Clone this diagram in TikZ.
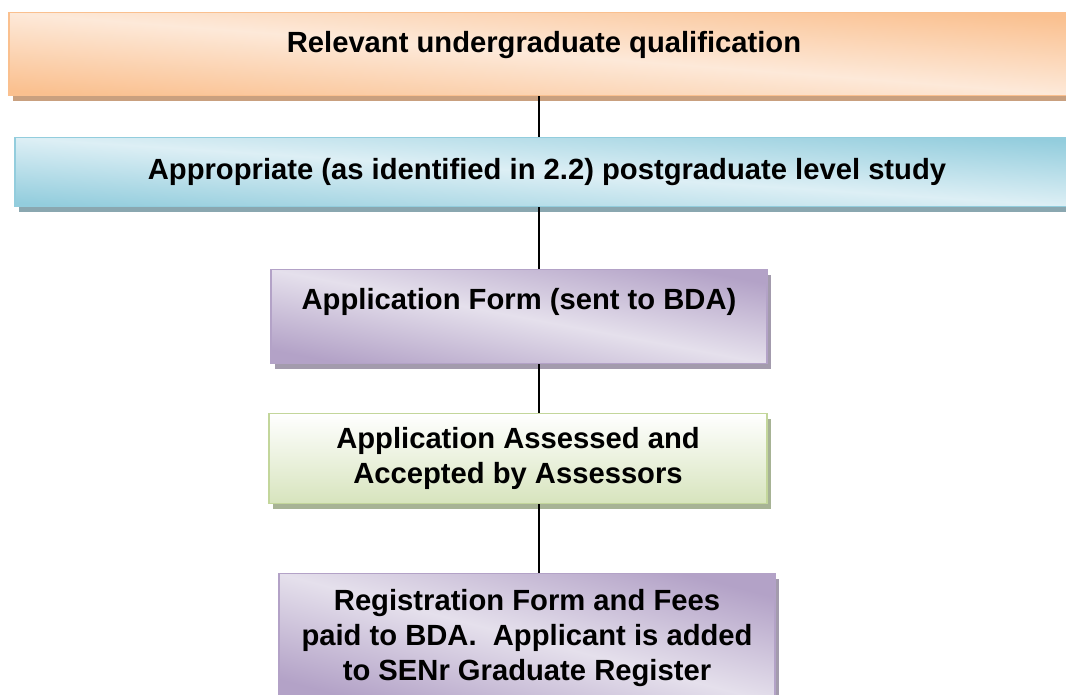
\documentclass[tikz,border=0pt]{standalone}
\usepackage{fontspec}
\setmainfont{Liberation Sans}
\usetikzlibrary{shadows}
\definecolor{ordark}{HTML}{FAC08F}
\definecolor{orlight}{HTML}{FDE9D9}
\definecolor{orshadow}{HTML}{C9A07F}
\definecolor{bldark}{HTML}{93CDDD}
\definecolor{bllight}{HTML}{DDEFF5}
\definecolor{blshadow}{HTML}{8AA7B0}
\definecolor{pudark}{HTML}{B3A2C7}
\definecolor{pulight}{HTML}{E5E0EC}
\definecolor{pushadow}{HTML}{A39BAD}
\definecolor{grdark}{HTML}{D7E4BD}
\definecolor{grborder}{HTML}{C3D69B}
\definecolor{grshadow}{HTML}{A7B395}

\begin{document}
\begin{tikzpicture}[x=1pt,y=-1pt,
    stage/.style={draw, line width=1.2pt, anchor=north, inner xsep=0pt,
      inner ysep=0pt, align=center,
      font=\fontsize{29.2}{35}\selectfont\bfseries},
    orangestage/.style={stage, draw=ordark, top color=ordark, bottom color=ordark,
      middle color=orlight, shading angle=#1,
      drop shadow={shadow xshift=4pt, shadow yshift=-5pt, fill=orshadow, opacity=1}},
    bluestage/.style={stage, draw=bldark, top color=bldark, bottom color=bldark,
      middle color=bllight, shading angle=#1,
      drop shadow={shadow xshift=4pt, shadow yshift=-5pt, fill=blshadow, opacity=1}},
    purplestage/.style={stage, draw=pudark, top color=pudark, bottom color=pudark,
      middle color=pulight, shading angle=#1,
      drop shadow={shadow xshift=4pt, shadow yshift=-5pt, fill=pushadow, opacity=1}},
    greenstage/.style={stage, draw=grborder, top color=white, bottom color=grdark,
      drop shadow={shadow xshift=4pt, shadow yshift=-5pt, fill=grshadow, opacity=1}},
    link/.style={draw=black, line width=1.2pt}]
    \useasboundingbox[fill=white] (0,0) rectangle (1066,694);
    \coordinate (spine) at (539,0); % asse dei connettori
    \node[orangestage=-4.4, minimum width=1070pt, text height=40pt, text depth=43pt]
      (rel) at (544,12) {Relevant undergraduate qualification};
    \node[bluestage=-3.7, minimum width=1064pt, text height=42pt, text depth=27pt]
      (post) at (547,137) {Appropriate (as identified in 2.2) postgraduate level study};
    \node[purplestage=-10.7, minimum width=496pt, text height=40pt, text depth=54pt]
      (form) at (519,269) {Application Form (sent to BDA)};
    \node[greenstage, minimum width=498pt, minimum height=90pt]
      (assess) at (518,413) {Application Assessed and\\Accepted by Assessors};
    \node[purplestage=-14.6, minimum width=496pt, inner ysep=16pt]
      (reg) at (527,573) {Registration Form and Fees\\paid to BDA.\ \ Applicant is added\\to SENr Graduate Register};
    \draw[link] (rel.south -| spine) -- (post.north -| spine);
    \draw[link] (post.south -| spine) -- (form.north -| spine);
    \draw[link] (form.south -| spine) -- (assess.north -| spine);
    \draw[link] (assess.south -| spine) -- (reg.north -| spine);
\end{tikzpicture}
\end{document}
